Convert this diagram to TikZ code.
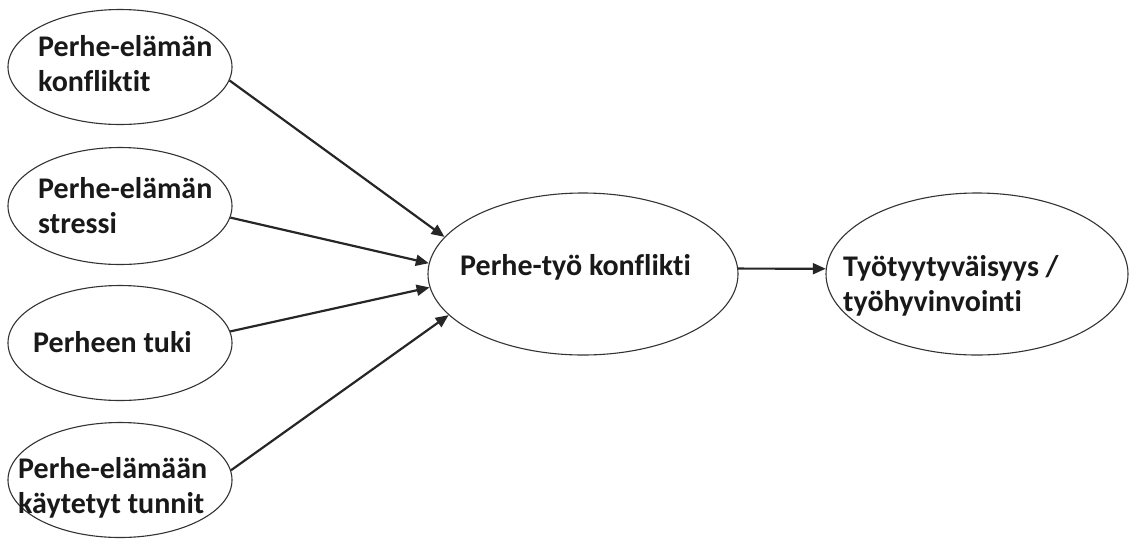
\documentclass[tikz,border=0pt]{standalone}
\usepackage{fontspec}
\setmainfont{Carlito}[Ligatures={NoCommon}]
\usetikzlibrary{shapes.geometric,arrows.meta}
\begin{document}
\begin{tikzpicture}[x=1pt,y=-1pt,
  bubble/.style={draw=black!80,line width=1.1pt,ellipse,inner sep=0pt},
  label/.style={anchor=west,align=left,inner sep=0pt,font=\fontsize{30}{35}\selectfont\bfseries,text=black!90},
  link/.style={line width=2.2pt,draw=black!85,-{Triangle[length=13pt,width=11pt]}}]
\useasboundingbox (0,0) rectangle (1129,542);
% factor ellipses on the left
\node[bubble,minimum width=224pt,minimum height=115pt] (e1) at (120,67) {};
\node[bubble,minimum width=224pt,minimum height=117pt] (e2) at (120,206) {};
\node[bubble,minimum width=224pt,minimum height=115pt] (e3) at (120,343) {};
\node[bubble,minimum width=224pt,minimum height=115pt] (e4) at (120,480) {};
% central and outcome ellipses
\node[bubble,minimum width=310pt,minimum height=162pt] (c) at (583,274) {};
\node[bubble,minimum width=302pt,minimum height=162pt] (r) at (977,274) {};
% texts
\node[label] (t1) at (38,64) {Perhe-elämän\\konfliktit};
\node[label] (t2) at (38,206) {Perhe-elämän\\stressi};
\node[label] (t3) at (33,342) {Perheen tuki};
\node[label] (t4) at (18,488) {Perhe-elämään\\käytetyt tunnit};
\node[label] (tc) at (460,267) {Perhe-työ konflikti};
\node[label] (tr) at (843,286) {Työtyytyväisyys /\\työhyvinvointi};
% connectors
\draw[link] (e1.-7) -- (c.165);
\draw[link] (e2.-6) -- (c.176.7);
\draw[link] (e3.6) -- (c.-175.2);
\draw[link] (e4.5) -- (c.-163.7);
\draw[link] (c.2.5) -- (r.178);
\end{tikzpicture}
\end{document}
